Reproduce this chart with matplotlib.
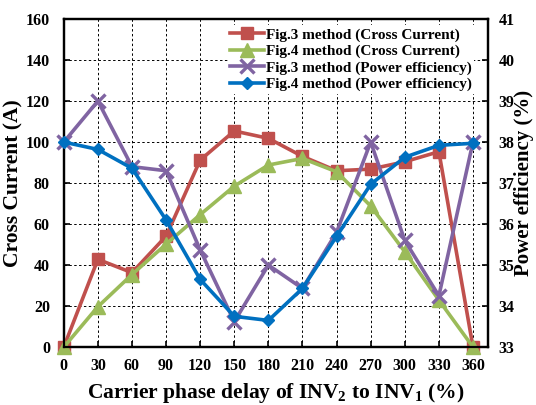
import matplotlib
matplotlib.use("Agg")
import matplotlib.pyplot as plt
from matplotlib.lines import Line2D

plt.rcParams['font.family'] = ['Liberation Serif', 'DejaVu Serif']
plt.rcParams['font.weight'] = 'bold'
plt.rcParams['mathtext.fontset'] = 'custom'
plt.rcParams['mathtext.rm'] = 'Liberation Serif:bold'
plt.rcParams['mathtext.it'] = 'Liberation Serif:bold'
plt.rcParams['mathtext.bf'] = 'Liberation Serif:bold'
plt.rcParams['mathtext.default'] = 'rm'

# Data
phase = [0, 30, 60, 90, 120, 150, 180, 210, 240, 270, 300, 330, 360]
fig3_current = [0, 42.8, 36.3, 54.1, 91.2, 105.4, 101.8, 93.0, 86.0, 86.8, 90.4, 95.3, 0]
fig4_current = [0, 19.7, 35.4, 50.2, 64.6, 78.5, 88.8, 92.0, 85.5, 68.8, 46.5, 22.9, 0]
fig3_eff = [38.0, 39.0, 37.4, 37.3, 35.37, 33.62, 35.0, 34.43, 35.8, 38.0, 35.6, 34.25, 38.0]
fig4_eff = [38.0, 37.82, 37.36, 36.1, 34.65, 33.75, 33.65, 34.43, 35.7, 36.97, 37.63, 37.92, 37.97]
xticks = phase
yticks_left = [0, 20, 40, 60, 80, 100, 120, 140, 160]
yticks_right = [33, 34, 35, 36, 37, 38, 39, 40, 41]

labels = ['Fig.3 method (Cross Current)', 'Fig.4 method (Cross Current)',
          'Fig.3 method (Power efficiency)', 'Fig.4 method (Power efficiency)']

c_red = '#C0504D'
c_green = '#9BBB59'
c_purple = '#8064A2'
c_blue = '#0070C0'

LW = 2.6
sty = [
    dict(color=c_red, lw=LW, marker='s', ms=9),
    dict(color=c_green, lw=LW, marker='^', ms=10),
    dict(color=c_purple, lw=LW, marker='x', ms=10.5, mew=2.4),
    dict(color=c_blue, lw=LW, marker='D', ms=6.5),
]

fig = plt.figure(figsize=(5.36, 4.05), dpi=100)
ax = fig.add_axes([0.119, 0.143, 0.791, 0.810])
ax2 = ax.twinx()

ax.plot(phase, fig3_current, clip_on=False, zorder=3, **sty[0])
ax.plot(phase, fig4_current, clip_on=False, zorder=4, **sty[1])
ax2.plot(phase, fig3_eff, clip_on=False, zorder=3, **sty[2])
ax2.plot(phase, fig4_eff, clip_on=False, zorder=4, **sty[3])

ax.set_xlim(0, 373)
ax.set_ylim(0, 160)
ax2.set_ylim(33, 41)
ax.set_xticks(xticks)
ax.set_yticks(yticks_left)
ax2.set_yticks(yticks_right)

ax.grid(True, color='black', linestyle=(0, (2.5, 2.5)), linewidth=0.7)
ax.set_axisbelow(True)

for a in (ax, ax2):
    for s in a.spines.values():
        s.set_linewidth(1.6)
ax.tick_params(axis='x', direction='in', labelsize=11.5, width=1.2, length=4, pad=8)
ax.tick_params(axis='y', direction='in', labelsize=11.5, width=1.2, length=4, pad=10)
ax2.tick_params(axis='y', direction='in', labelsize=11.5, width=1.2, length=4, pad=8)

ax.set_xlabel(r'Carrier phase delay of INV$_{2}$ to INV$_{1}$ (%)', fontsize=15.5, fontweight='bold', labelpad=5)
ax.set_ylabel('Cross Current (A)', fontsize=15.5, fontweight='bold', labelpad=2)
ax2.set_ylabel('Power efficiency (%)', fontsize=15, fontweight='bold', labelpad=-1)

handles = [Line2D([], [], **s) for s in sty]
leg = ax2.legend(handles, labels, loc='upper right', bbox_to_anchor=(0.975, 0.99),
                 fontsize=11, frameon=True, framealpha=1, edgecolor='none',
                 facecolor='white', handlelength=2.2, handletextpad=0.15,
                 labelspacing=0.18, borderpad=0.15, borderaxespad=0.2, fancybox=False)
leg.set_zorder(10)

fig.savefig('out.png', dpi=100)
